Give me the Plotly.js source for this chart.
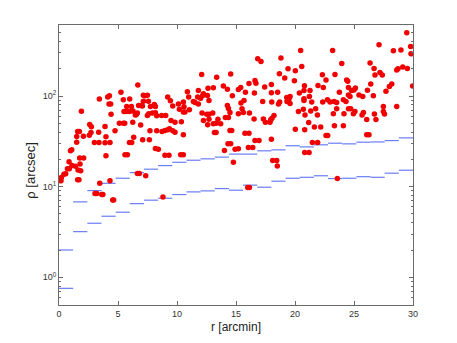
<!DOCTYPE html>
<html><head><meta charset="utf-8">
<script src="https://cdn.plot.ly/plotly-3.0.1.min.js"></script>
<style>html,body{margin:0;padding:0;background:#fff}#chart{width:457px;height:343px}</style>
</head><body><div id="chart"></div>
<script>
// bin width of the step profiles (arcmin)
const binWidth = 1.2;
// upper and lower step profiles (arcsec), one value per bin
const upperRho = [2.0,6.8,9.06,10.9,12.4,14.3,15.6,17.1,18.6,19.6,20.3,21.2,22.9,22.9,24.9,25.5,28.3,27.5,29.0,30.2,29.7,31.0,31.2,32.3,34.6];
const lowerRho = [0.755,3.19,3.95,4.72,5.23,6.5,7.1,7.46,8.19,8.76,8.99,9.53,9.15,10.4,9.87,11.5,12.4,12.7,13.2,12.3,12.4,12.9,12.7,14.1,15.2];

// scattered points: r [arcmin]
const rDots = [
 3.42,4.13,4.27,4.24,4.38,1.90,4.41,2.60,2.74,3.90,1.58,1.73,2.71,3.36,2.07,1.50,2.57,3.98,4.75,1.50,3.00,3.39,3.90,4.32,1.08,0.97,3.98,1.75,2.09,0.85,1.10,1.39,1.78,0.71,0.88,1.61,1.84,0.57,0.42,0.20,0.17,1.58,1.69,4.32,3.45,3.05,3.20,3.62,3.72,4.55,4.63,
 6.68,5.25,5.45,5.99,7.15,7.29,7.49,9.21,7.15,7.58,9.44,5.74,6.14,6.75,6.95,7.07,8.08,8.17,7.75,9.64,5.51,5.71,5.97,6.27,6.64,6.56,6.47,7.6,7.49,7.92,8.17,8.28,8.7,9.04,9.49,9.83,5.12,5.46,5.57,6.25,6.92,7.71,8.28,8.73,8.98,9.21,9.36,9.64,9.83,6.33,5.97,6.16,7.09,7.66,8.17,8.42,5.59,5.8,8.98,9.32,6.64,6.81,7.35,8.81,
 12.09,13.36,14.55,12.63,13.08,13.93,14.27,10.88,11.81,14.69,12.24,12.18,12.58,10.99,11.75,12.0,11.39,11.53,11.81,12.71,10.54,10.12,10.2,10.59,10.54,10.68,11.05,14.27,14.36,14.49,12.12,12.52,12.71,13.03,12.24,12.71,13.47,12.6,13.08,13.31,13.7,14.1,14.36,10.37,10.54,13.17,13.31,14.49,14.64,10.31,10.54,14.32,14.55,14.02,14.92,14.78,
 16.84,17.12,18.81,19.41,18.68,19.13,20.03,19.95,16.61,16.69,16.1,15.4,15.2,17.43,18.0,18.0,18.53,15.8,16.56,19.3,19.5,19.58,19.32,19.58,15.42,15.68,17.26,18.03,18.6,18.7,15.51,15.2,15.62,16.14,18.22,18.05,17.94,17.88,16.53,17.32,17.49,15.76,16.1,16.61,16.95,18.0,15.2,16.05,16.42,18.11,18.45,18.5,20.03,15.99,16.14,
 20.48,23.19,23.96,20.57,22.32,22.63,23.39,24.38,24.47,20.8,21.95,22.4,24.53,24.8,25.12,25.0,20.37,20.76,21.27,21.22,23.76,20.76,20.76,21.42,24.53,24.66,22.35,22.75,22.97,23.31,23.53,24.1,24.32,20.71,20.29,21.33,21.75,23.53,24.53,24.72,20.85,21.9,23.25,24.15,24.95,25.08,21.16,20.82,21.64,22.18,23.34,24.1,22.63,22.77,21.47,21.92,20.82,21.19,23.59,
 29.47,29.8,29.83,27.12,28.34,28.98,26.36,26.7,26.78,27.2,27.4,28.62,28.73,29.13,29.52,29.97,26.42,26.14,25.42,25.74,26.64,27.71,28.0,28.2,27.49,27.49,27.58,28.62,25.68,25.8,26.73,26.08,26.86,26.08,26.27
];
// scattered points: rho [arcsec]
const rhoDots = [
 93,98,101,82,82,68,63,48.5,45.8,46.2,40.6,40.6,39.6,40,36.1,35.8,37,35.5,41.4,31,30.7,30.7,30.5,30.7,25.5,24.9,21.9,20.8,20.8,18.9,17.1,16.8,17.8,15.8,15.8,15.3,15,13.9,13.7,12.6,11.6,11.95,11.95,11.6,10.9,8.4,8.4,8.2,8.2,7.15,7.15,
 133,110,91,92.7,102,101,102,97.5,88,88,88.7,76.7,76.7,79,79,78,80.8,76.7,76.7,78,67.6,67.6,67.6,68.4,65,62.6,61.7,63.7,61,65,65.4,60.6,61,61,53.8,51.6,50.3,50.3,50.3,51.6,48,41.4,41.4,40.6,41.6,42.4,43.5,41.4,40,35.2,30.7,30.7,32.9,32.9,26.4,25.9,22.5,22.5,22.3,22.3,14,14,13.2,7.7,
 173,162,175,122.5,124,129,119,111.5,115,101,106,101.5,101.5,97.5,97.5,95,87,85,82,89.4,86,81.6,71.8,76.3,66.6,66.6,70.6,78.7,73,66,65,63,63,65,53.8,55.6,55.6,48.2,49.4,50.3,49.4,58,58,52,37.4,39.6,39.6,41.6,41.6,22.5,22.5,29.7,29.7,25.1,25.9,18.6,
 258,241,263,200,176,158,190,148,149,139,138,124.5,118,126,134,109,110,110,108,96.5,93.4,99,87,83,83.7,89.4,87,86,82,86,72.4,63.7,65.9,65,61,57,54.7,51.5,56,56,51.5,39,39,32.3,32.3,33.5,26.2,27,27,19.4,19.4,16.9,43,9.8,9.8,
 319,319,229,212,172,151,173,151,146,130,131,124.5,124.5,115,123,117,108,115,115,99,110,93.4,89.4,86,103,99,86,91,86,87,85,91,87,71.8,67.6,68.7,72.4,72.4,72.4,72.4,62,62,63.7,63.7,63.7,67.6,51.1,42.4,45.5,45.5,47,47,36.7,36.7,30.7,30.7,23.8,23.8,12.3,
 500,353,293,369,316,322,232,202,171,182,171,194,200,209,202,129,136,116,103,99,101,113.5,128,136,76.7,67.6,63.3,76.7,62,65.9,63.3,55.1,55.1,37.4,37.4
];

const xTickVals = [0,5,10,15,20,25,30];
const yTickVals = [1,10,100];
const yTickText = ['10<sup>0</sup>','10<sup>1</sup>','10<sup>2</sup>'];
const xTitle = 'r [arcmin]';
const yTitle = 'ρ [arcsec]';

function steps(vals){
  const x=[],y=[];
  vals.forEach((v,i)=>{ x.push(i*binWidth,(i+1)*binWidth,null); y.push(v,v,null); });
  return {x,y};
}
const up = steps(upperRho), lo = steps(lowerRho);

const minorVals = [];
[0.1,1,10,100].forEach(d=>{ for(let k=2;k<=9;k++) minorVals.push(k*d); });

const lineCol = 'rgb(105,125,245)';
const traces = [
  {x:up.x, y:up.y, mode:'lines', line:{color:lineCol, width:1.2}, connectgaps:false, hoverinfo:'skip'},
  {x:lo.x, y:lo.y, mode:'lines', line:{color:lineCol, width:1.2}, connectgaps:false, hoverinfo:'skip'},
  {x:rDots, y:rhoDots, mode:'markers', marker:{color:'rgb(240,0,0)', size:5.5, line:{width:0}}}
];

const axCol = '#6a6a6a';
const layout = {
  width:457, height:343,
  margin:{l:59, r:44, t:25, b:38},
  paper_bgcolor:'#fff', plot_bgcolor:'#fff',
  showlegend:false,
  font:{family:'Liberation Sans, Arial, sans-serif', size:9, color:'#333'},
  xaxis:{
    range:[0,30], tickvals:xTickVals, ticktext:xTickVals.map(String),
    ticks:'inside', ticklen:4, tickcolor:axCol, showline:true, linecolor:axCol, linewidth:1,
    mirror:'ticks', showgrid:false, zeroline:false,
    tickfont:{size:9, color:'#333'},
    title:{text:xTitle, font:{size:12, color:'#222'}, standoff:4}
  },
  yaxis:{
    type:'log', range:[-0.306, 2.785],
    tickvals:yTickVals, ticktext:yTickText,
    ticks:'inside', ticklen:4, tickcolor:axCol, showline:true, linecolor:axCol, linewidth:1,
    mirror:'allticks', showgrid:false, zeroline:false,
    minor:{tickvals:minorVals, ticks:'inside', ticklen:2, tickcolor:axCol, showgrid:false},
    tickfont:{size:9, color:'#333'}
  },
  annotations:[{
    text:yTitle, textangle:-90, showarrow:false,
    xref:'paper', yref:'paper', x:-0.079, y:0.48, xanchor:'center', yanchor:'middle',
    font:{size:13, color:'#222'}
  }]
};
Plotly.newPlot('chart', traces, layout, {staticPlot:true, displayModeBar:false});
</script></body></html>
